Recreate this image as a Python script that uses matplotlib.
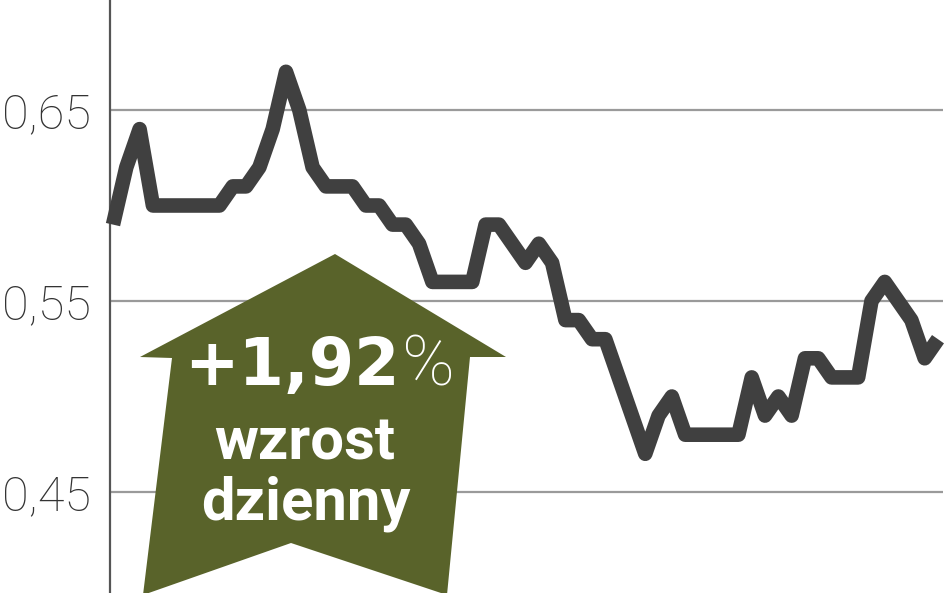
import matplotlib
matplotlib.use("Agg")
import matplotlib.pyplot as plt
from matplotlib.patches import Polygon
from matplotlib.ticker import FuncFormatter

# ---- data ----
values = [0.59, 0.62, 0.64, 0.60, 0.60, 0.60, 0.60, 0.60, 0.60, 0.61,
          0.61, 0.62, 0.64, 0.67, 0.65, 0.62, 0.61, 0.61, 0.61, 0.60,
          0.60, 0.59, 0.59, 0.58, 0.56, 0.56, 0.56, 0.56, 0.59, 0.59,
          0.58, 0.57, 0.58, 0.57, 0.54, 0.54, 0.53, 0.53, 0.51, 0.49,
          0.47, 0.49, 0.50, 0.48, 0.48, 0.48, 0.48, 0.48, 0.51, 0.49,
          0.50, 0.49, 0.52, 0.52, 0.51, 0.51, 0.51, 0.55, 0.56, 0.55,
          0.54, 0.52, 0.53]
days = list(range(len(values)))
yticks = [0.45, 0.55, 0.65]
badge_value = "+1,92"
badge_pct = "%"
badge_line1 = "wzrost"
badge_line2 = "dzienny"

W, H = 948, 593
fig = plt.figure(figsize=(W / 100, H / 100), dpi=100)
fig.patch.set_facecolor("white")

# axes placed in pixel terms
ax_left, ax_right = 110, 943
ax = fig.add_axes([ax_left / W, 0, (ax_right - ax_left) / W, 1])
ax.set_facecolor("none")

px_per_day = (938 - 113) / (len(values) - 1)
xmin = -(113 - ax_left) / px_per_day
xmax = xmin + (ax_right - ax_left) / px_per_day
ax.set_xlim(xmin, xmax)
px_per_unit = 1910.0
ymax = 0.65 + 110 / px_per_unit
ymin = 0.45 - (H - 492) / px_per_unit
ax.set_ylim(ymin, ymax)

# grid
for yv in yticks:
    ax.axhline(yv, color="#9a9a9a", lw=1.6, zorder=1)

# badge (arrow)
arrow_px = [(335, 254), (506, 357), (470, 357), (447, 595), (291, 543),
            (143, 595), (172, 358), (140, 357)]
arrow = Polygon([(x / W, 1 - y / H) for x, y in arrow_px], closed=True,
                transform=fig.transFigure, facecolor="#59632a",
                edgecolor="none", zorder=2)
ax.add_patch(arrow)
arrow.set_clip_on(False)

# line
ax.plot(days, values, color="#404040", lw=10.5, solid_joinstyle="round",
        solid_capstyle="butt", zorder=3, clip_on=False)

# spines / ticks
for s in ["top", "right", "bottom"]:
    ax.spines[s].set_visible(False)
ax.spines["left"].set_color("#555555")
ax.spines["left"].set_linewidth(1.6)
ax.set_xticks([])
ax.set_yticks(yticks)
ax.yaxis.set_major_formatter(FuncFormatter(lambda v, p: f"{v:.2f}".replace(".", ",")))
ax.tick_params(axis="y", length=0, pad=14, labelsize=35, labelcolor="#333333")
for lab in ax.get_yticklabels():
    lab.set_fontfamily(["Roboto", "DejaVu Sans"])
    lab.set_fontweight("light")

# badge texts
def fx(x):
    return x / W

def fy(y):
    return 1 - y / H

fig.text(fx(400), fy(385), badge_value, ha="right", va="baseline",
         fontsize=47, fontweight="bold", color="white",
         family=["DejaVu Sans"], zorder=5)
fig.text(fx(402), fy(385), badge_pct, ha="left", va="baseline",
         fontsize=51, fontweight="light", color="white",
         family=["Roboto", "DejaVu Sans"], zorder=5)
fig.text(fx(305), fy(459), badge_line1, ha="center", va="baseline",
         fontsize=43, fontweight="bold", color="white",
         family=["Roboto", "DejaVu Sans"], zorder=5)
fig.text(fx(306), fy(519), badge_line2, ha="center", va="baseline",
         fontsize=43, fontweight="bold", color="white",
         family=["Roboto", "DejaVu Sans"], zorder=5)

fig.savefig("out.png", dpi=100, facecolor="white")
